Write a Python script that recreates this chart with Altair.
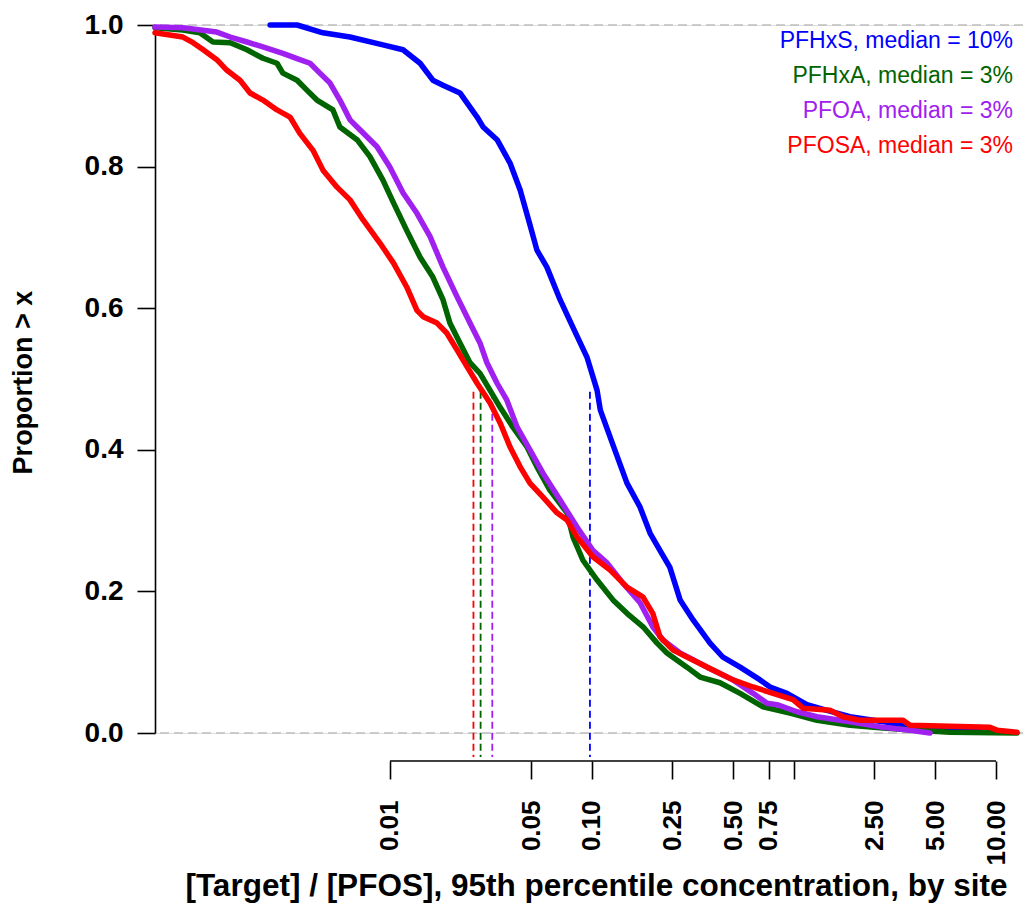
import altair as alt
import pandas as pd

FONT = "Liberation Sans"

names = ["PFHxS", "PFHxA", "PFOA", "PFOSA"]
colors = ["#0000FF", "#006400", "#A020F0", "#FF0000"]
legend_labels = ["PFHxS, median = 10%", "PFHxA, median = 3%", "PFOA, median = 3%", "PFOSA, median = 3%"]
medians = [0.0977, 0.0281, 0.0321, 0.0259]

pfhxs_x = [0.00255, 0.00347, 0.00466, 0.00634, 0.00923, 0.0116, 0.0141, 0.0163, 0.0183, 0.0222, 0.0270,
           0.0289, 0.0339, 0.0393, 0.0441, 0.0493, 0.0534, 0.0598, 0.0695, 0.0805, 0.0944, 0.106, 0.110,
           0.127, 0.149, 0.173, 0.194, 0.217, 0.243, 0.273, 0.316, 0.384, 0.445, 0.541, 0.679, 0.761,
           0.923, 1.159, 1.456, 1.893, 2.760, 3.753, 5.92, 9.33]
pfhxs_y = [1.0, 1.0, 0.989, 0.983, 0.972, 0.965, 0.946, 0.922, 0.915, 0.904, 0.870, 0.856, 0.838, 0.805,
           0.767, 0.718, 0.682, 0.658, 0.612, 0.573, 0.531, 0.484, 0.456, 0.407, 0.353, 0.319, 0.282,
           0.258, 0.234, 0.188, 0.160, 0.127, 0.107, 0.093, 0.075, 0.065, 0.056, 0.040, 0.032, 0.023,
           0.016, 0.008, 0.004, 0.001]

pfhxa_x = [0.000687, 0.000944, 0.001145, 0.00133, 0.00162, 0.00196, 0.00235, 0.00276, 0.00295, 0.00347,
           0.00388, 0.00435, 0.00522, 0.00565, 0.00687, 0.00796, 0.00923, 0.0104, 0.0121, 0.0141, 0.0163,
           0.0183, 0.0198, 0.0222, 0.0249, 0.0279, 0.0313, 0.0351, 0.0406, 0.0477, 0.0534, 0.0619, 0.0752,
           0.0805, 0.0902, 0.106, 0.127, 0.149, 0.179, 0.210, 0.235, 0.295, 0.343, 0.430, 0.541, 0.703,
           0.955, 1.30, 1.893, 2.760, 4.062, 5.92, 12.7]
pfhxa_y = [0.996, 0.993, 0.989, 0.976, 0.975, 0.965, 0.953, 0.946, 0.932, 0.922, 0.908, 0.894, 0.880,
           0.856, 0.838, 0.814, 0.781, 0.749, 0.710, 0.672, 0.644, 0.612, 0.579, 0.551, 0.523, 0.508,
           0.484, 0.460, 0.432, 0.404, 0.376, 0.343, 0.311, 0.277, 0.244, 0.216, 0.188, 0.169, 0.150,
           0.127, 0.113, 0.093, 0.079, 0.071, 0.056, 0.037, 0.028, 0.018, 0.011, 0.007, 0.004, 0.001, 0.0]

pfoa_x = [0.000687, 0.000944, 0.00139, 0.00162, 0.00196, 0.00235, 0.00295, 0.00358, 0.00402, 0.00450,
          0.00505, 0.00565, 0.00634, 0.00710, 0.00863, 0.0100, 0.0116, 0.0136, 0.0158, 0.0183, 0.0215,
          0.0249, 0.0279, 0.0302, 0.0339, 0.0379, 0.0426, 0.0493, 0.0572, 0.0695, 0.0843, 0.101, 0.119,
          0.142, 0.173, 0.200, 0.225, 0.273, 0.371, 0.499, 0.627, 0.735, 0.824, 1.035, 1.30, 1.893,
          2.760, 3.753, 4.71]
pfoa_y = [0.997, 0.996, 0.990, 0.983, 0.976, 0.969, 0.960, 0.951, 0.946, 0.932, 0.918, 0.894, 0.866,
          0.852, 0.828, 0.799, 0.763, 0.734, 0.701, 0.658, 0.616, 0.579, 0.551, 0.523, 0.494, 0.470,
          0.432, 0.400, 0.367, 0.329, 0.291, 0.258, 0.240, 0.212, 0.184, 0.150, 0.131, 0.113, 0.093,
          0.075, 0.056, 0.042, 0.040, 0.030, 0.023, 0.016, 0.008, 0.004, 0.0]

pfosa_x = [0.000687, 0.000944, 0.00106, 0.00119, 0.00139, 0.00156, 0.00181, 0.00203, 0.00235, 0.00276,
           0.00320, 0.00358, 0.00416, 0.00466, 0.00547, 0.00634, 0.00735, 0.00892, 0.0104, 0.0121,
           0.0136, 0.0146, 0.0171, 0.0191, 0.0215, 0.0241, 0.0270, 0.0313, 0.0351, 0.0393, 0.0441,
           0.0493, 0.0572, 0.0671, 0.0752, 0.0843, 0.101, 0.123, 0.149, 0.179, 0.200, 0.217, 0.252,
           0.316, 0.397, 0.499, 0.627, 0.787, 0.989, 1.109, 1.507, 1.749, 2.122, 3.467, 3.753, 9.33,
           10.11, 12.7]
pfosa_y = [0.989, 0.983, 0.975, 0.965, 0.951, 0.936, 0.922, 0.904, 0.894, 0.880, 0.870, 0.847, 0.823,
           0.795, 0.771, 0.753, 0.725, 0.692, 0.664, 0.630, 0.597, 0.588, 0.579, 0.565, 0.541, 0.517,
           0.494, 0.466, 0.438, 0.404, 0.376, 0.353, 0.333, 0.311, 0.301, 0.277, 0.249, 0.230, 0.206,
           0.192, 0.169, 0.136, 0.117, 0.103, 0.089, 0.075, 0.065, 0.056, 0.047, 0.035, 0.032, 0.023,
           0.018, 0.018, 0.011, 0.008, 0.004, 0.001]

x_ticks = [0.01, 0.05, 0.1, 0.25, 0.5, 0.75, 1, 2.5, 5, 10]
y_ticks = [0.0, 0.2, 0.4, 0.6, 0.8, 1.0]
ref_levels = [0.0, 1.0]

W, H = 868, 708
XOFF = 28

x_scale = alt.Scale(type="log", domain=[0.000687, 13.6], nice=False, zero=False)
y_scale = alt.Scale(domain=[0, 1], nice=False, zero=False)

x_axis = alt.Axis(
    values=x_ticks,
    labelExpr="datum.value == 1 ? '' : format(datum.value, '.2f')",
    labelAngle=270, labelAlign="right", labelBaseline="middle",
    labelFont=FONT, labelFontWeight="bold", labelFontSize=26, labelColor="black",
    labelPadding=21, labelOverlap=False, labelFlush=False, labelBound=False,
    tickSize=18, tickWidth=1.6, tickColor="black",
    domain=False, grid=False, offset=XOFF,
    title="[Target] / [PFOS], 95th percentile concentration, by site",
    titleFont=FONT, titleFontWeight="bold", titleFontSize=31.5, titleColor="black",
    titleX=441, titleY=134, titleAlign="center", titleBaseline="alphabetic",
)
y_axis = alt.Axis(
    values=y_ticks, format=".1f",
    labelFont=FONT, labelFontWeight="bold", labelFontSize=28, labelColor="black",
    labelPadding=14, labelOverlap=False, labelFlush=False,
    tickSize=18, tickWidth=1.6, tickColor="black",
    domainColor="black", domainWidth=1.6, grid=False,
    title="Proportion > x",
    titleFont=FONT, titleFontWeight="bold", titleFontSize=27, titleColor="black",
    titleAngle=270, titleX=-118, titleY=357, titleAlign="center", titleBaseline="bottom",
)


def X(field):
    return alt.X(field, type="quantitative", scale=x_scale, axis=x_axis)


def Y(field):
    return alt.Y(field, type="quantitative", scale=y_scale, axis=y_axis)


layers = []

# gray dashed reference lines at 0 and 1
ref_df = pd.DataFrame({"y": ref_levels})
layers.append(
    alt.Chart(ref_df).mark_rule(color="#BEBEBE", strokeDash=[9, 5], strokeWidth=1.5)
    .encode(y=Y("y"))
)

# x-axis baseline from first to last tick (R style)
axl_df = pd.DataFrame({"x": [min(x_ticks)], "x1": [max(x_ticks)]})
layers.append(
    alt.Chart(axl_df).mark_rule(color="black", strokeWidth=1.6)
    .encode(x=X("x"), x2="x1:Q", y=alt.value(H + XOFF))
)

# median dashed lines
med_df = pd.DataFrame({"name": names, "x": medians, "y": [0.482] * 4})
layers.append(
    alt.Chart(med_df).mark_rule(strokeDash=[7, 4], strokeWidth=1.8)
    .encode(
        x=X("x"),
        y=Y("y"),
        y2=alt.value(H + XOFF - 4),
        color=alt.Color("name:N", scale=alt.Scale(domain=names, range=colors), legend=None),
    )
)

series = [
    (pfhxs_x, pfhxs_y, colors[0]),
    (pfhxa_x, pfhxa_y, colors[1]),
    (pfoa_x, pfoa_y, colors[2]),
    (pfosa_x, pfosa_y, colors[3]),
]
for xs, ys, col in series:
    df = pd.DataFrame({"x": xs, "y": ys})
    layers.append(
        alt.Chart(df).mark_line(color=col, strokeWidth=5.5, strokeCap="round", strokeJoin="round")
        .encode(x=X("x"), y=Y("y"))
    )

# legend text (top right)
for i, (lab, col) in enumerate(zip(legend_labels, colors)):
    tdf = pd.DataFrame({"t": [lab]})
    layers.append(
        alt.Chart(tdf).mark_text(align="right", baseline="alphabetic", font=FONT, fontSize=23, color=col)
        .encode(text="t:N", x=alt.value(W - 10), y=alt.value(23 + 35 * i))
    )

chart = alt.layer(*layers).properties(
    width=W, height=H,
    autosize=alt.AutoSizeParams(type="none"),
    padding={"left": 155, "top": 25, "right": 0, "bottom": 175},
    background="white",
).configure_view(stroke=None).configure(font=FONT)

chart.save("out.html", embed_options={"renderer": "svg", "actions": False})
